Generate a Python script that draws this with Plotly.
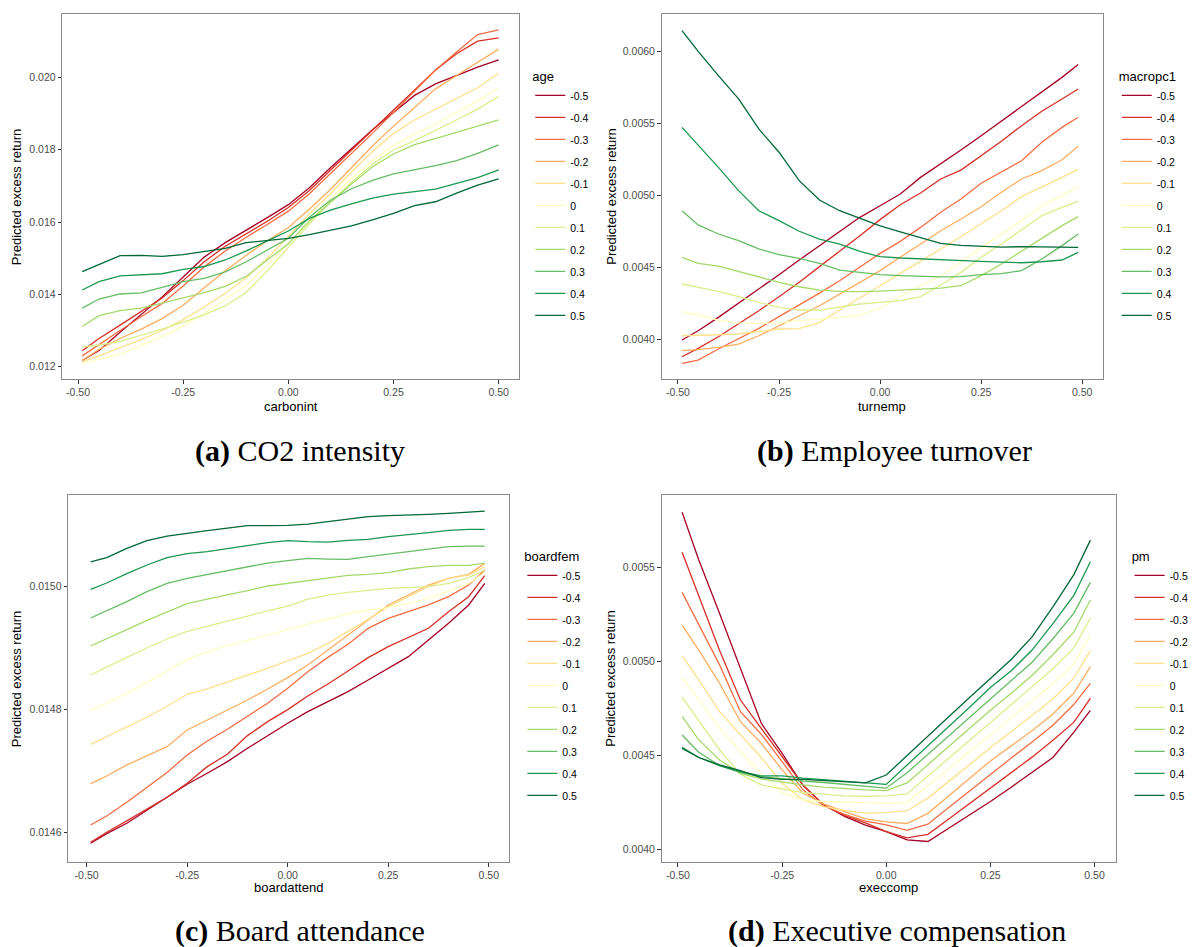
import plotly.graph_objects as go

# ---------------- data ----------------
LEVELS = ['-0.5', '-0.4', '-0.3', '-0.2', '-0.1', '0', '0.1', '0.2', '0.3', '0.4', '0.5']
COLORS = ['#a50026', '#d73027', '#f46d43', '#fdae61', '#fee08b', '#ffffbf',
          '#d9ef8b', '#a6d96a', '#66bd63', '#1a9850', '#006837']

x_carbonint = [-0.49, -0.45, -0.40, -0.35, -0.30, -0.25, -0.20, -0.15, -0.10, -0.05, 0.00,
               0.05, 0.10, 0.15, 0.20, 0.25, 0.30, 0.35, 0.40, 0.45, 0.50]
x_grid = [-0.49, -0.45, -0.40, -0.35, -0.30, -0.25, -0.20, -0.15, -0.10, -0.05, 0.00,
          0.05, 0.10, 0.15, 0.20, 0.25, 0.30, 0.35, 0.40, 0.45, 0.49]

# (a) CO2 intensity, by age
co2_by_age = [
    [0.01217, 0.01245, 0.01295, 0.01345, 0.01393, 0.01448, 0.01503, 0.01543, 0.01577, 0.01612, 0.01648, 0.01695, 0.01750, 0.01802, 0.01855, 0.01903, 0.01950, 0.01982, 0.02005, 0.02028, 0.02048],
    [0.01244, 0.01278, 0.01315, 0.01353, 0.01390, 0.01438, 0.01490, 0.01533, 0.01568, 0.01602, 0.01640, 0.01687, 0.01743, 0.01798, 0.01853, 0.01908, 0.01965, 0.02020, 0.02065, 0.02100, 0.02109],
    [0.01230, 0.01262, 0.01300, 0.01338, 0.01375, 0.01423, 0.01476, 0.01520, 0.01558, 0.01593, 0.01630, 0.01678, 0.01733, 0.01789, 0.01845, 0.01903, 0.01962, 0.02020, 0.02070, 0.02118, 0.02131],
    [0.01217, 0.01248, 0.01278, 0.01304, 0.01333, 0.01370, 0.01418, 0.01465, 0.01508, 0.01548, 0.01585, 0.01635, 0.01690, 0.01750, 0.01810, 0.01865, 0.01917, 0.01968, 0.02005, 0.02041, 0.02078],
    [0.01214, 0.01230, 0.01253, 0.01275, 0.01300, 0.01330, 0.01365, 0.01403, 0.01446, 0.01500, 0.01560, 0.01623, 0.01678, 0.01738, 0.01795, 0.01845, 0.01882, 0.01912, 0.01940, 0.01971, 0.02011],
    [0.01209, 0.01221, 0.01235, 0.01258, 0.01283, 0.01313, 0.01348, 0.01386, 0.01426, 0.01480, 0.01540, 0.01600, 0.01663, 0.01720, 0.01770, 0.01811, 0.01843, 0.01871, 0.01903, 0.01935, 0.01971],
    [0.01255, 0.01260, 0.01270, 0.01286, 0.01304, 0.01323, 0.01343, 0.01368, 0.01405, 0.01465, 0.01530, 0.01595, 0.01655, 0.01710, 0.01760, 0.01799, 0.01825, 0.01853, 0.01882, 0.01912, 0.01947],
    [0.01311, 0.01341, 0.01355, 0.01362, 0.01376, 0.01390, 0.01405, 0.01422, 0.01450, 0.01495, 0.01540, 0.01603, 0.01655, 0.01705, 0.01753, 0.01788, 0.01814, 0.01832, 0.01848, 0.01865, 0.01882],
    [0.01362, 0.01387, 0.01401, 0.01404, 0.01419, 0.01435, 0.01444, 0.01462, 0.01490, 0.01523, 0.01555, 0.01613, 0.01660, 0.01692, 0.01715, 0.01733, 0.01744, 0.01756, 0.01770, 0.01790, 0.01813],
    [0.01412, 0.01435, 0.01451, 0.01453, 0.01457, 0.01469, 0.01477, 0.01495, 0.01520, 0.01548, 0.01575, 0.01610, 0.01633, 0.01650, 0.01666, 0.01677, 0.01683, 0.01691, 0.01707, 0.01723, 0.01744],
    [0.01463, 0.01482, 0.01507, 0.01508, 0.01505, 0.01510, 0.01518, 0.01527, 0.01543, 0.01549, 0.01555, 0.01565, 0.01578, 0.01589, 0.01606, 0.01624, 0.01645, 0.01656, 0.01680, 0.01702, 0.01719],
]

# (b) Employee turnover, by macropc1
turnover_by_macropc1 = [
    [0.003993, 0.004058, 0.004151, 0.004248, 0.004348, 0.004448, 0.004550, 0.004650, 0.004750, 0.004847, 0.004928, 0.005009, 0.005125, 0.005218, 0.005316, 0.005415, 0.005515, 0.005617, 0.005717, 0.005821, 0.005910],
    [0.003877, 0.003935, 0.004016, 0.004105, 0.004197, 0.004295, 0.004395, 0.004504, 0.004610, 0.004719, 0.004831, 0.004935, 0.005016, 0.005114, 0.005176, 0.005276, 0.005376, 0.005485, 0.005585, 0.005671, 0.005740],
    [0.003831, 0.003854, 0.003931, 0.004000, 0.004074, 0.004156, 0.004237, 0.004320, 0.004406, 0.004499, 0.004596, 0.004680, 0.004777, 0.004882, 0.004975, 0.005084, 0.005160, 0.005241, 0.005369, 0.005473, 0.005543],
    [0.003919, 0.003926, 0.003942, 0.003965, 0.004023, 0.004093, 0.004163, 0.004232, 0.004313, 0.004395, 0.004476, 0.004569, 0.004661, 0.004754, 0.004835, 0.004921, 0.005021, 0.005114, 0.005172, 0.005248, 0.005341],
    [0.004023, 0.004028, 0.004030, 0.004035, 0.004053, 0.004070, 0.004072, 0.004114, 0.004202, 0.004285, 0.004371, 0.004457, 0.004545, 0.004627, 0.004712, 0.004800, 0.004893, 0.004991, 0.005056, 0.005125, 0.005183],
    [0.004190, 0.004169, 0.004132, 0.004112, 0.004109, 0.004112, 0.004128, 0.004139, 0.004151, 0.004167, 0.004216, 0.004295, 0.004371, 0.004441, 0.004534, 0.004638, 0.004731, 0.004824, 0.004928, 0.004998, 0.005060],
    [0.004383, 0.004360, 0.004332, 0.004295, 0.004255, 0.004221, 0.004202, 0.004202, 0.004221, 0.004244, 0.004255, 0.004267, 0.004295, 0.004376, 0.004464, 0.004569, 0.004661, 0.004759, 0.004859, 0.004917, 0.004958],
    [0.004569, 0.004527, 0.004508, 0.004471, 0.004429, 0.004395, 0.004364, 0.004341, 0.004332, 0.004330, 0.004334, 0.004341, 0.004348, 0.004355, 0.004371, 0.004441, 0.004522, 0.004610, 0.004696, 0.004789, 0.004852],
    [0.004893, 0.004794, 0.004731, 0.004685, 0.004627, 0.004587, 0.004562, 0.004527, 0.004480, 0.004464, 0.004448, 0.004441, 0.004436, 0.004432, 0.004434, 0.004448, 0.004455, 0.004476, 0.004557, 0.004650, 0.004731],
    [0.005473, 0.005350, 0.005195, 0.005033, 0.004893, 0.004824, 0.004750, 0.004696, 0.004661, 0.004610, 0.004573, 0.004564, 0.004557, 0.004550, 0.004545, 0.004541, 0.004536, 0.004531, 0.004538, 0.004550, 0.004603],
    [0.006146, 0.006002, 0.005833, 0.005671, 0.005462, 0.005300, 0.005102, 0.004968, 0.004893, 0.004842, 0.004787, 0.004745, 0.004703, 0.004666, 0.004652, 0.004645, 0.004640, 0.004643, 0.004640, 0.004638, 0.004638],
]

# (c) Board attendance, by boardfem
attend_by_boardfem = [
    [0.0145821, 0.0145979, 0.0146147, 0.0146354, 0.0146565, 0.0146782, 0.0146961, 0.0147151, 0.0147368, 0.0147574, 0.0147775, 0.0147965, 0.0148128, 0.0148290, 0.0148480, 0.0148670, 0.0148860, 0.0149132, 0.0149403, 0.0149702, 0.0150054],
    [0.0145837, 0.0146000, 0.0146185, 0.0146375, 0.0146570, 0.0146798, 0.0147069, 0.0147270, 0.0147574, 0.0147802, 0.0147997, 0.0148220, 0.0148415, 0.0148627, 0.0148844, 0.0149023, 0.0149170, 0.0149322, 0.0149593, 0.0149837, 0.0150179],
    [0.0146119, 0.0146266, 0.0146489, 0.0146727, 0.0146972, 0.0147259, 0.0147487, 0.0147677, 0.0147883, 0.0148101, 0.0148345, 0.0148616, 0.0148849, 0.0149061, 0.0149322, 0.0149484, 0.0149593, 0.0149702, 0.0149837, 0.0150027, 0.0150271],
    [0.0146793, 0.0146917, 0.0147097, 0.0147249, 0.0147395, 0.0147666, 0.0147829, 0.0147992, 0.0148155, 0.0148334, 0.0148518, 0.0148725, 0.0148969, 0.0149213, 0.0149457, 0.0149702, 0.0149864, 0.0150027, 0.0150136, 0.0150201, 0.0150380],
    [0.0147433, 0.0147558, 0.0147710, 0.0147873, 0.0148052, 0.0148247, 0.0148334, 0.0148442, 0.0148556, 0.0148670, 0.0148790, 0.0148915, 0.0149077, 0.0149267, 0.0149468, 0.0149674, 0.0149837, 0.0150000, 0.0150136, 0.0150190, 0.0150326],
    [0.0147987, 0.0148101, 0.0148263, 0.0148437, 0.0148627, 0.0148811, 0.0148942, 0.0149039, 0.0149121, 0.0149213, 0.0149305, 0.0149392, 0.0149474, 0.0149555, 0.0149620, 0.0149658, 0.0149729, 0.0149810, 0.0149929, 0.0150054, 0.0150233],
    [0.0148562, 0.0148692, 0.0148849, 0.0149001, 0.0149148, 0.0149273, 0.0149360, 0.0149441, 0.0149522, 0.0149604, 0.0149685, 0.0149799, 0.0149864, 0.0149908, 0.0149940, 0.0149973, 0.0149984, 0.0150000, 0.0150054, 0.0150147, 0.0150271],
    [0.0149034, 0.0149148, 0.0149300, 0.0149452, 0.0149593, 0.0149723, 0.0149799, 0.0149864, 0.0149935, 0.0150011, 0.0150054, 0.0150092, 0.0150136, 0.0150185, 0.0150201, 0.0150228, 0.0150288, 0.0150326, 0.0150347, 0.0150347, 0.0150385],
    [0.0149490, 0.0149604, 0.0149756, 0.0149919, 0.0150054, 0.0150136, 0.0150201, 0.0150266, 0.0150331, 0.0150385, 0.0150423, 0.0150461, 0.0150450, 0.0150445, 0.0150488, 0.0150526, 0.0150570, 0.0150613, 0.0150651, 0.0150662, 0.0150662],
    [0.0149957, 0.0150060, 0.0150212, 0.0150353, 0.0150472, 0.0150537, 0.0150570, 0.0150624, 0.0150668, 0.0150716, 0.0150749, 0.0150733, 0.0150727, 0.0150754, 0.0150771, 0.0150814, 0.0150841, 0.0150879, 0.0150917, 0.0150933, 0.0150933],
    [0.0150402, 0.0150472, 0.0150624, 0.0150749, 0.0150825, 0.0150863, 0.0150912, 0.0150955, 0.0150993, 0.0150993, 0.0150999, 0.0151020, 0.0151058, 0.0151107, 0.0151140, 0.0151156, 0.0151161, 0.0151178, 0.0151194, 0.0151216, 0.0151232],
]

# (d) Executive compensation, by pm
execcomp_by_pm = [
    [0.005793, 0.005539, 0.005255, 0.004959, 0.004670, 0.004510, 0.004340, 0.004235, 0.004175, 0.004128, 0.004094, 0.004050, 0.004041, 0.004112, 0.004183, 0.004254, 0.004330, 0.004408, 0.004488, 0.004622, 0.004739],
    [0.005580, 0.005349, 0.005057, 0.004794, 0.004644, 0.004493, 0.004342, 0.004235, 0.004180, 0.004140, 0.004094, 0.004060, 0.004079, 0.004161, 0.004243, 0.004325, 0.004405, 0.004490, 0.004580, 0.004675, 0.004803],
    [0.005367, 0.005193, 0.004981, 0.004732, 0.004612, 0.004466, 0.004316, 0.004230, 0.004185, 0.004150, 0.004130, 0.004100, 0.004133, 0.004222, 0.004311, 0.004400, 0.004485, 0.004570, 0.004660, 0.004770, 0.004883],
    [0.005193, 0.005060, 0.004883, 0.004679, 0.004564, 0.004422, 0.004298, 0.004241, 0.004200, 0.004161, 0.004145, 0.004137, 0.004191, 0.004284, 0.004377, 0.004470, 0.004550, 0.004630, 0.004720, 0.004830, 0.004972],
    [0.005030, 0.004901, 0.004732, 0.004608, 0.004488, 0.004351, 0.004262, 0.004227, 0.004206, 0.004192, 0.004195, 0.004205, 0.004272, 0.004361, 0.004451, 0.004540, 0.004625, 0.004710, 0.004800, 0.004910, 0.005057],
    [0.004915, 0.004794, 0.004644, 0.004520, 0.004401, 0.004301, 0.004262, 0.004254, 0.004250, 0.004245, 0.004245, 0.004248, 0.004336, 0.004427, 0.004519, 0.004610, 0.004700, 0.004790, 0.004880, 0.004985, 0.005140],
    [0.004809, 0.004684, 0.004528, 0.004399, 0.004342, 0.004321, 0.004301, 0.004293, 0.004284, 0.004282, 0.004284, 0.004294, 0.004389, 0.004484, 0.004580, 0.004675, 0.004770, 0.004865, 0.004960, 0.005070, 0.005229],
    [0.004707, 0.004582, 0.004475, 0.004404, 0.004374, 0.004356, 0.004342, 0.004330, 0.004321, 0.004316, 0.004312, 0.004353, 0.004450, 0.004547, 0.004643, 0.004740, 0.004830, 0.004925, 0.005035, 0.005155, 0.005326],
    [0.004608, 0.004516, 0.004445, 0.004408, 0.004387, 0.004374, 0.004363, 0.004355, 0.004346, 0.004335, 0.004325, 0.004407, 0.004505, 0.004603, 0.004700, 0.004800, 0.004895, 0.004995, 0.005120, 0.005255, 0.005420],
    [0.004543, 0.004488, 0.004445, 0.004413, 0.004390, 0.004390, 0.004378, 0.004369, 0.004360, 0.004353, 0.004345, 0.004448, 0.004550, 0.004650, 0.004755, 0.004860, 0.004950, 0.005060, 0.005200, 0.005350, 0.005530],
    [0.004537, 0.004488, 0.004449, 0.004418, 0.004381, 0.004372, 0.004372, 0.004367, 0.004360, 0.004353, 0.004395, 0.004500, 0.004600, 0.004705, 0.004807, 0.004910, 0.005010, 0.005130, 0.005290, 0.005460, 0.005645],
]

X_TICKS = [-0.5, -0.25, 0.0, 0.25, 0.5]
X_TICKTEXT = ['-0.50', '-0.25', '0.00', '0.25', '0.50']

panels = [
    dict(x=x_carbonint, series=co2_by_age, legend_title='age', xtitle='carbonint',
         caption='<b>(a)</b> CO2 intensity',
         yticks=[0.012, 0.014, 0.016, 0.018, 0.020],
         yticktext=['0.012', '0.014', '0.016', '0.018', '0.020']),
    dict(x=x_grid, series=turnover_by_macropc1, legend_title='macropc1', xtitle='turnemp',
         caption='<b>(b)</b> Employee turnover',
         yticks=[0.0040, 0.0045, 0.0050, 0.0055, 0.0060],
         yticktext=['0.0040', '0.0045', '0.0050', '0.0055', '0.0060']),
    dict(x=x_grid, series=attend_by_boardfem, legend_title='boardfem', xtitle='boardattend',
         caption='<b>(c)</b> Board attendance',
         yticks=[0.0146, 0.0148, 0.0150],
         yticktext=['0.0146', '0.0148', '0.0150']),
    dict(x=x_grid, series=execcomp_by_pm, legend_title='pm', xtitle='execcomp',
         caption='<b>(d)</b> Executive compensation',
         yticks=[0.0040, 0.0045, 0.0050, 0.0055],
         yticktext=['0.0040', '0.0045', '0.0050', '0.0055']),
]

# ---------------- layout (pixel geometry of the page) ----------------
W, H = 1194, 947
# plot boxes: left, right, top, bottom (px)
boxes = [(63, 526, 14, 379), (670, 1117, 14, 379), (69, 515, 495, 862), (670, 1130, 495, 862)]
xranges = [(-0.5376, 0.5493), (-0.5405, 0.5513), (-0.5459, 0.5491), (-0.5393, 0.5510)]
yranges = [(0.01166, 0.02175), (0.003722, 0.006262), (0.0145516, 0.0151493), (0.003932, 0.005885)]
legend_text_x = [573, 1167, 565, 1180]
legend_top = [64, 64, 544, 544]
ytitle_x = [17, 619, 17, 618]
xtitle_y = [406, 406, 887, 887]
caption_xy = [(304, 451), (906, 451), (304, 931), (908, 931)]

FONT = 'Liberation Sans, Arial, sans-serif'
fig = go.Figure()
layout = dict(width=W, height=H, margin=dict(l=0, r=0, t=0, b=0),
              paper_bgcolor='white', plot_bgcolor='white', showlegend=True)
annotations = []

for i, p in enumerate(panels):
    n = '' if i == 0 else str(i + 1)
    leg = 'legend' if i == 0 else 'legend' + str(i + 1)
    for lv, col, ys in zip(LEVELS, COLORS, p['series']):
        fig.add_trace(go.Scatter(
            x=p['x'], y=ys, mode='lines', name=lv,
            line=dict(color=col, width=1.3),
            xaxis='x' + n, yaxis='y' + n, legend=leg,
            legendgroup=f'p{i}_{lv}', hoverinfo='skip'))
    l, r, t, b = boxes[i]
    layout['xaxis' + n] = dict(
        domain=[l / W, r / W], range=list(xranges[i]), anchor='y' + n,
        tickvals=X_TICKS, ticktext=X_TICKTEXT, ticks='outside', ticklen=3.5,
        tickcolor='#333333', tickwidth=1, showgrid=False, zeroline=False,
        showline=True, mirror=True, linecolor='#8a8a8a', linewidth=1,
        tickfont=dict(family=FONT, size=10.5, color='#4d4d4d'))
    layout['yaxis' + n] = dict(
        domain=[1 - b / H, 1 - t / H], range=list(yranges[i]), anchor='x' + n,
        tickvals=p['yticks'], ticktext=p['yticktext'], ticks='outside', ticklen=3.5,
        tickcolor='#333333', tickwidth=1, showgrid=False, zeroline=False,
        showline=True, mirror=True, linecolor='#8a8a8a', linewidth=1,
        tickfont=dict(family=FONT, size=10.5, color='#4d4d4d'))
    layout[leg] = dict(
        x=(legend_text_x[i] - 36) / W, y=1 - legend_top[i] / H,
        xanchor='left', yanchor='top', bgcolor='rgba(0,0,0,0)', borderwidth=0,
        traceorder='grouped', tracegroupgap=3,
        title=dict(text=p['legend_title'], font=dict(family=FONT, size=13, color='black')),
        font=dict(family=FONT, size=10.5, color='black'))
    annotations.append(dict(
        text='Predicted excess return', textangle=-90, xref='paper', yref='paper',
        x=ytitle_x[i] / W, y=1 - (t + b) / 2 / H, showarrow=False,
        xanchor='center', yanchor='middle',
        font=dict(family=FONT, size=13, color='black')))
    annotations.append(dict(
        text=p['xtitle'], xref='paper', yref='paper',
        x=(l + r) / 2 / W, y=1 - xtitle_y[i] / H, showarrow=False,
        xanchor='center', yanchor='middle',
        font=dict(family=FONT, size=13, color='black')))
    cx, cy = caption_xy[i]
    annotations.append(dict(
        text=p['caption'], xref='paper', yref='paper', x=cx / W, y=1 - cy / H,
        showarrow=False, xanchor='center', yanchor='middle',
        font=dict(family='Liberation Serif, Times New Roman, serif', size=30, color='black')))

layout['annotations'] = annotations
fig.update_layout(**layout)
fig.write_html('out.html')
